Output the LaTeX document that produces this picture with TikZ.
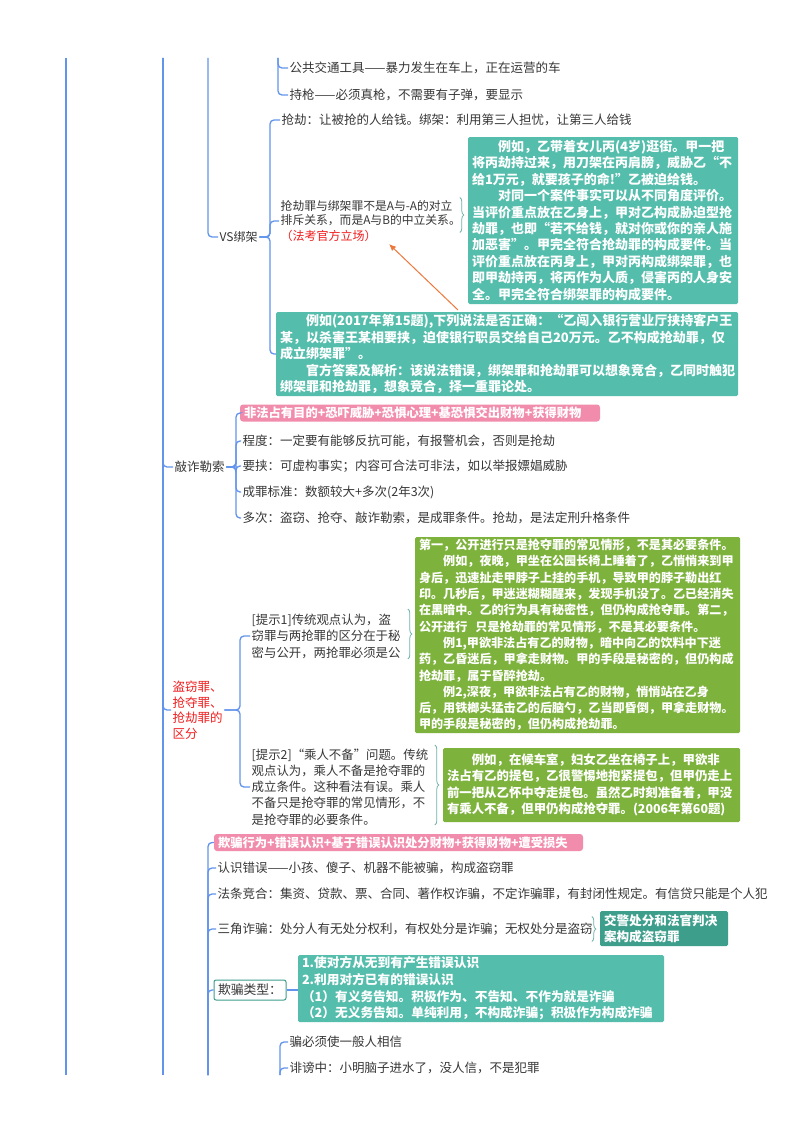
\documentclass[tikz,border=0pt]{standalone}
\usepackage{fontspec}
\setmainfont{Noto Sans CJK SC}
\usetikzlibrary{arrows.meta,decorations.pathreplacing}
\definecolor{mapblue}{RGB}{98,148,235}
\definecolor{tealbox}{RGB}{84,189,172}
\definecolor{tealdark}{RGB}{62,158,140}
\definecolor{greenbox}{RGB}{125,178,60}
\definecolor{pinkbox}{RGB}{242,140,172}
\definecolor{bracegray}{RGB}{110,180,168}
\definecolor{txt}{RGB}{55,55,55}
\definecolor{redtxt}{RGB}{240,30,30}
\definecolor{arrorange}{RGB}{238,120,60}

\begin{document}
\begin{tikzpicture}[x=1pt, y=-1pt,
    trunk/.style={draw=mapblue, line width=1.4pt},
    branch/.style={draw=mapblue, line width=1.3pt, rounded corners=4pt},
    item/.style={anchor=west, inner sep=1.5pt, text=txt, align=left, font=\fontsize{12.5}{16}\selectfont},
    note/.style={fill=tealbox, text=white, align=left, inner xsep=4pt, inner ysep=0pt, rounded corners=1.5pt, font=\fontsize{13}{16.4}\selectfont\bfseries},
    tag/.style={fill=pinkbox, text=white, align=left, inner xsep=4pt, inner ysep=0pt, minimum height=17pt, rounded corners=3pt, font=\fontsize{12.3}{14}\selectfont\bfseries},
    curly/.style={draw=bracegray, line width=0.8pt, decorate, decoration={brace, amplitude=4pt}},
    hint/.style={-{Latex[length=7pt,width=6pt]}, draw=arrorange, line width=1pt}
  ]
    \useasboundingbox[fill=white] (0,0) rectangle (800,1132);

    \coordinate (topA) at (66,58);
    \coordinate (botA) at (66,1075);
    \coordinate (topB) at (163,58);
    \coordinate (botB) at (163,1075);
    \coordinate (topC) at (208,58);
    \coordinate (topD) at (278,58);
    \coordinate (botE) at (208,1075);
    \coordinate (botF) at (280,1075);
    \coordinate (vsJ) at (270,237);
    \coordinate (qzJ) at (236,467);
    \coordinate (dqJ) at (240,710);

    \node[item] (gongjiao) at (288,68) {公共交通工具——暴力发生在车上，正在运营的车};
    \node[item] (chiqiang) at (288,95) {持枪——必须真枪，不需要有子弹，要显示};

    \node[item, font=\fontsize{12}{15}\selectfont] (vs) at (218,237) {VS绑架};
    \node[item] (qiangjie) at (280,120) {抢劫：让被抢的人给钱。绑架：利用第三人担忧，让第三人给钱};
    \node[item, font=\fontsize{11.8}{14.5}\selectfont] (relation) at (279,221) {抢劫罪与绑架罪不是A与-A的对立\\排斥关系，而是A与B的中立关系。\\[1pt]{\color{redtxt}\fontsize{12}{14}\selectfont （法考官方立场）}};
    \node[note, text width=262pt, minimum height=167pt] (caseA) at (603,220.5) {\hspace*{2em}例如，乙带着女儿丙(4岁)逛街。甲一把\\将丙劫持过来，用刀架在丙肩膀，威胁乙“不\\给1万元，就要孩子的命!”乙被迫给钱。\\\hspace*{2em}对同一个案件事实可以从不同角度评价。\\当评价重点放在乙身上，甲对乙构成胁迫型抢\\劫罪，也即“若不给钱，就对你或你的亲人施\\加恶害”。甲完全符合抢劫罪的构成要件。当\\评价重点放在丙身上，甲对丙构成绑架罪，也\\即甲劫持丙，将丙作为人质，侵害丙的人身安\\全。甲完全符合绑架罪的构成要件。};
    \node[note, text width=454pt, minimum height=84pt] (caseB) at (507,354) {\hspace*{2em}例如(2017年第15题),下列说法是否正确：“乙闯入银行营业厅挟持客户王\\某，以杀害王某相要挟，迫使银行职员交给自己20万元。乙不构成抢劫罪，仅\\成立绑架罪”。\\\hspace*{2em}官方答案及解析：该说法错误，绑架罪和抢劫罪可以想象竞合，乙同时触犯\\绑架罪和抢劫罪，想象竞合，择一重罪论处。};

    \node[item] (qiaozha) at (173,467) {敲诈勒索};
    \node[tag, text width=352pt] (elements) at (420,413) {非法占有目的+恐吓威胁+恐惧心理+基恐惧交出财物+获得财物};
    \node[item] (chengdu) at (241,441) {程度：一定要有能够反抗可能，有报警机会，否则是抢劫};
    \node[item] (yaoxie) at (241,466) {要挟：可虚构事实；内容可合法可非法，如以举报嫖娼威胁};
    \node[item] (biaozhun) at (241,492) {成罪标准：数额较大+多次(2年3次)};
    \node[item] (duoci) at (241,518) {多次：盗窃、抢夺、敲诈勒索，是成罪条件。抢劫，是法定刑升格条件};

    \node[item, text=redtxt, font=\fontsize{12.5}{15.5}\selectfont] (dqq) at (171,710) {盗窃罪、\\抢夺罪、\\抢劫罪的\\区分};
    \node[item, font=\fontsize{12.4}{16.5}\selectfont] (tishiA) at (250,636) {[提示1]传统观点认为，盗\\窃罪与两抢罪的区分在于秘\\密与公开，两抢罪必须是公};
    \node[item, font=\fontsize{12.4}{16.2}\selectfont] (tishiB) at (250,787) {[提示2]“乘人不备”问题。传统\\观点认为，乘人不备是抢夺罪的\\成立条件。这种看法有误。乘人\\不备只是抢夺罪的常见情形，不\\是抢夺罪的必要条件。};
    \node[note, fill=greenbox, text width=317pt, minimum height=196pt, font=\fontsize{12.1}{16.3}\selectfont\bfseries] (caseC) at (577.5,635) {第一，公开进行只是抢夺罪的常见情形，不是其必要条件。\\\hspace*{2em}例如，夜晚，甲坐在公园长椅上睡着了，乙悄悄来到甲\\身后，迅速扯走甲脖子上挂的手机，导致甲的脖子勒出红\\印。几秒后，甲迷迷糊糊醒来，发现手机没了。乙已经消失\\在黑暗中。乙的行为具有秘密性，但仍构成抢夺罪。第二，\\公开进行\ \ 只是抢劫罪的常见情形，不是其必要条件。\\\hspace*{2em}例1,甲欲非法占有乙的财物，暗中向乙的饮料中下迷\\药，乙昏迷后，甲拿走财物。甲的手段是秘密的，但仍构成\\抢劫罪，属于昏醉抢劫。\\\hspace*{2em}例2,深夜，甲欲非法占有乙的财物，悄悄站在乙身\\后，用铁榔头猛击乙的后脑勺，乙当即昏倒，甲拿走财物。\\甲的手段是秘密的，但仍构成抢劫罪。};
    \node[note, fill=greenbox, text width=289pt, minimum height=74pt, font=\fontsize{12.4}{16.4}\selectfont\bfseries] (caseD) at (591.5,785) {\hspace*{2em}例如，在候车室，妇女乙坐在椅子上，甲欲非\\法占有乙的提包，乙很警惕地抱紧提包，但甲仍走上\\前一把从乙怀中夺走提包。虽然乙时刻准备着，甲没\\有乘人不备，但甲仍构成抢夺罪。(2006年第60题)};

    \node[tag, text width=361pt] (fraud) at (398.5,842.5) {欺骗行为+错误认识+基于错误认识处分财物+获得财物+遭受损失};
    \node[item] (renshi) at (216,868) {认识错误——小孩、傻子、机器不能被骗，构成盗窃罪};
    \node[item] (fatiao) at (216,894) {法条竞合：集资、贷款、票、合同、著作权诈骗，不定诈骗罪，有封闭性规定。有信贷只能是个人犯};
    \node[item] (sanjiao) at (216,929) {三角诈骗：处分人有无处分权利，有权处分是诈骗；无权处分是盗窃};
    \node[note, fill=tealdark, text width=120pt, minimum height=35pt, font=\fontsize{12.6}{16}\selectfont\bfseries] (jiaojing) at (664,928.5) {交警处分和法官判决\\案构成盗窃罪};
    \node[draw=tealdark, line width=1pt, fill=white, text=txt, rounded corners=2pt, minimum width=72pt, minimum height=20pt, inner sep=1pt, font=\fontsize{12.8}{15}\selectfont] (leixing) at (250,990) {欺骗类型：};
    \node[note, text width=358pt, minimum height=67pt, font=\fontsize{12.7}{16.6}\selectfont\bfseries] (leixingA) at (481,988.5) {1.使对方从无到有产生错误认识\\2.利用对方已有的错误认识\\（1）有义务告知。积极作为、不告知、不作为就是诈骗\\（2）无义务告知。单纯利用，不构成诈骗；积极作为构成诈骗};
    \node[item] (xiangxin) at (288,1042) {骗必须使一般人相信};
    \node[item] (feibang) at (288,1068) {诽谤中：小明脑子进水了，没人信，不是犯罪};

    \coordinate (arrTail) at (458,310);
    \coordinate (arrHead) at (389,244);

    \draw[trunk] (topA) -- (botA);
    \draw[trunk] (topB) -- (botB);
    \draw[branch] (topB) |- (qiaozha.west);
    \draw[branch] (topB) |- (dqq.west);
    \draw[branch] (topC) |- (vs.west);
    \draw[branch] (topD) |- (gongjiao.west);
    \draw[branch] (topD) |- (chiqiang.west);

    \draw[branch] (vs.east) -- (vsJ) |- (qiangjie.west);
    \draw[branch] (vs.east) -- (vsJ) |- (relation.west);
    \draw[branch] (vs.east) -- (vsJ) |- (caseB.west);

    \draw[branch] (qiaozha.east) -- (qzJ) |- (elements.west);
    \draw[branch] (qiaozha.east) -- (qzJ) |- (chengdu.west);
    \draw[branch] (qiaozha.east) -- (qzJ) |- (yaoxie.west);
    \draw[branch] (qiaozha.east) -- (qzJ) |- (biaozhun.west);
    \draw[branch] (qiaozha.east) -- (qzJ) |- (duoci.west);

    \draw[branch] (dqq.east) -- (dqJ) |- (tishiA.west);
    \draw[branch] (dqq.east) -- (dqJ) |- (tishiB.west);

    \draw[branch] (botE) |- (fraud.west);
    \draw[branch] (botE) |- (renshi.west);
    \draw[branch] (botE) |- (fatiao.west);
    \draw[branch] (botE) |- (sanjiao.west);
    \draw[branch] (botE) |- (leixing.west);
    \draw[branch] (leixing.east) -- (leixing.east -| leixingA.west);

    \draw[branch] (botF) |- (xiangxin.west);
    \draw[branch] (botF) |- (feibang.west);

    \draw[curly] ([shift={(-8,-23)}]caseA.west) -- ([shift={(-8,12)}]caseA.west);
    \draw[curly] ([shift={(-7,-26)}]caseC.west) -- ([shift={(-7,24)}]caseC.west);
    \draw[curly] ([shift={(-8,-40)}]caseD.west) -- ([shift={(-8,40)}]caseD.west);
    \draw[curly] ([shift={(-8,-12)}]jiaojing.west) -- ([shift={(-8,13)}]jiaojing.west);

    \draw[hint] (arrTail) -- (arrHead);
  \end{tikzpicture}
\end{document}
